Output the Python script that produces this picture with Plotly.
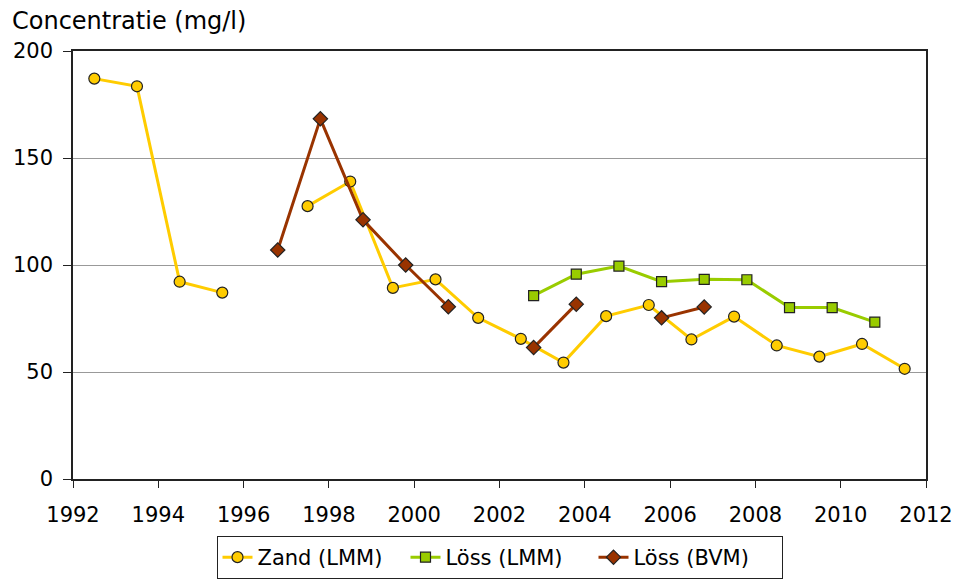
import plotly.graph_objects as go

zand_x = [1992.5, 1993.5, 1994.5, 1995.5, 1996.5, 1997.5, 1998.5, 1999.5, 2000.5, 2001.5,
          2002.5, 2003.5, 2004.5, 2005.5, 2006.5, 2007.5, 2008.5, 2009.5, 2010.5, 2011.5]
zand_y = [187.1, 183.5, 92.2, 87.1, None, 127.5, 139.0, 89.3, 93.3, 75.3,
          65.5, 54.4, 76.1, 81.3, 65.2, 75.9, 62.4, 57.2, 63.1, 51.5]

loss_lmm_x = [2002.8, 2003.8, 2004.8, 2005.8, 2006.8, 2007.8, 2008.8, 2009.8, 2010.8]
loss_lmm_y = [85.7, 95.7, 99.5, 92.2, 93.3, 93.1, 80.1, 80.1, 73.3]

loss_bvm_x = [1996.8, 1997.8, 1998.8, 1999.8, 2000.8, 2001.8, 2002.8, 2003.8, 2004.8, 2005.8, 2006.8]
loss_bvm_y = [107.0, 168.3, 121.1, 100.0, 80.5, None, 61.4, 81.7, None, 75.3, 80.4]

x_ticks = list(range(1992, 2013, 2))
y_ticks = [0, 50, 100, 150, 200]

fig = go.Figure()
fig.add_trace(go.Scatter(x=zand_x, y=zand_y, mode="lines+markers", name="Zand (LMM)",
                         line=dict(color="#FFCC00", width=3),
                         marker=dict(symbol="circle", size=11, color="#FFCC00",
                                     line=dict(color="#222222", width=1.2))))
fig.add_trace(go.Scatter(x=loss_lmm_x, y=loss_lmm_y, mode="lines+markers", name="Löss (LMM)",
                         line=dict(color="#99CC00", width=3),
                         marker=dict(symbol="square", size=10, color="#99CC00",
                                     line=dict(color="#222222", width=1.2))))
fig.add_trace(go.Scatter(x=loss_bvm_x, y=loss_bvm_y, mode="lines+markers", name="Löss (BVM)",
                         line=dict(color="#993300", width=3),
                         marker=dict(symbol="diamond", size=11, color="#993300",
                                     line=dict(color="#222222", width=1.2))))

fig.update_layout(
    width=959, height=579,
    margin=dict(l=73, r=33, t=51, b=100, autoexpand=False),
    paper_bgcolor="white", plot_bgcolor="white",
    font=dict(family="DejaVu Sans", size=21, color="black"),
    showlegend=True,
    legend=dict(orientation="h", x=0.5, xanchor="center",
                yref="container", y=(579 - 536) / 579, yanchor="top",
                bordercolor="#222222", borderwidth=1, font=dict(size=21),
                itemwidth=30, entrywidth=143, tracegroupgap=0),
    annotations=[dict(text="Concentratie (mg/l)", xref="paper", yref="paper",
                      x=-0.074, y=1.1075, xanchor="left", yanchor="top",
                      showarrow=False, font=dict(size=24))],
)
fig.update_xaxes(range=[1992, 2012], tickvals=x_ticks, ticks="outside", ticklen=7,
                 tickcolor="#222222", showline=True, linecolor="#222222", linewidth=1.5,
                 mirror=True, showgrid=False, zeroline=False, ticklabelstandoff=9,
                 automargin=False)
fig.update_yaxes(range=[0, 200], tickvals=y_ticks, ticks="outside", ticklen=8,
                 tickcolor="#222222", showline=True, linecolor="#222222", linewidth=1.5,
                 mirror=True, showgrid=True, gridcolor="#999999", gridwidth=1,
                 zeroline=False, ticklabelstandoff=6, automargin=False)

fig.write_html("out.html", config={"displayModeBar": False},
               post_script="document.body.style.margin='0px';")
